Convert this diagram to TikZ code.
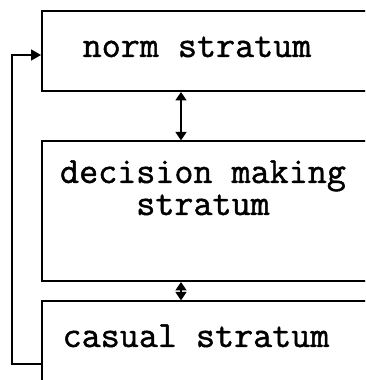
\documentclass[tikz,border=0pt]{standalone}
\usepackage{fontspec}
\setmonofont{Latin Modern Mono}[FakeBold=1.2]
\usetikzlibrary{arrows.meta}
\begin{document}
\begin{tikzpicture}[x=1pt,y=1pt,
  line width=1.6pt,
  stratum/.style={draw, rectangle, inner sep=0pt, anchor=south west},
  label/.style={font=\ttfamily\fontsize{37}{32}\selectfont, inner sep=0pt, align=center},
  link/.style={{Triangle[length=8.5pt,width=11pt]}-{Triangle[length=8.5pt,width=11pt]}},
  feed/.style={-{Triangle[length=10pt,width=11pt]}}]
\useasboundingbox (0,0) rectangle (365,380);
\clip (0,0) rectangle (365,380);

% the three strata, open to the right
\node[stratum, minimum width=327pt, minimum height=80pt]  (norm) at (41,288) {};
\node[stratum, minimum width=327pt, minimum height=140pt] (decision) at (41,98) {};
\node[stratum, minimum width=327pt, minimum height=110pt] (casual) at (41,-32) {};

\node[label, anchor=base] (normtext) at (197,323) {norm stratum};
\node[label, anchor=base] (dectext) at (203,165) {decision making\\stratum};
\node[label, anchor=base] (castext) at (196,33) {casual stratum};

% links between neighbouring strata
\coordinate (ax) at (181,0);
\draw[link] (norm.south west -| ax) -- (decision.north west -| ax);
\draw[link] (decision.south west -| ax) -- (casual.north west -| ax);

% feedback from the casual stratum to the norm stratum
\coordinate (fbtop) at (12,325);
\coordinate (fbbot) at (12,16);
\draw[feed] (fbbot -| casual.west) -- (fbbot) -- (fbtop) -- (fbtop -| norm.west);
\end{tikzpicture}
\end{document}
